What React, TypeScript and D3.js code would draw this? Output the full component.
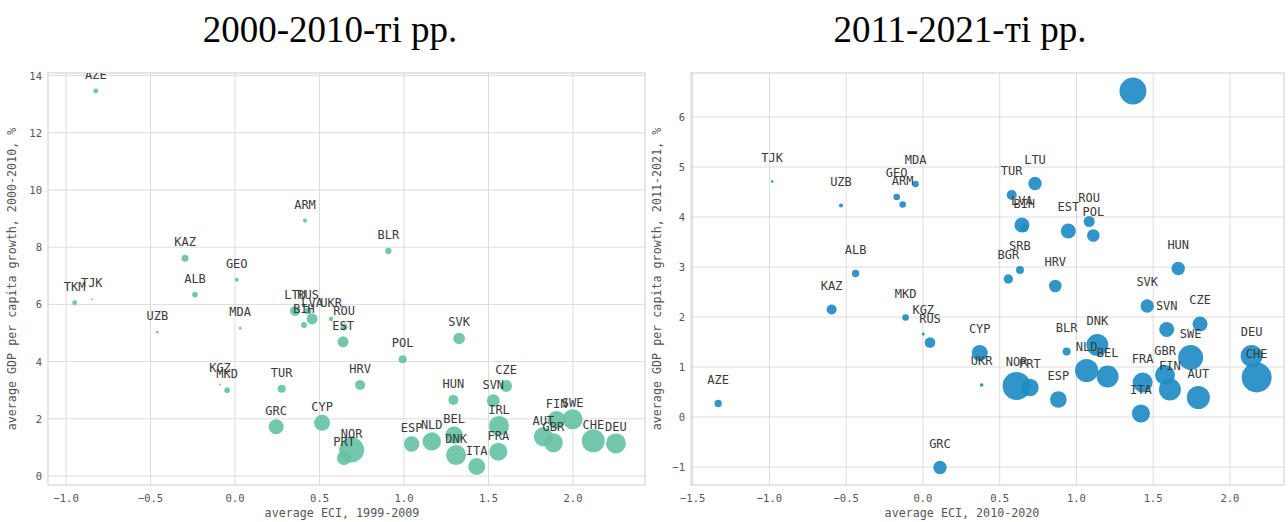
import React, { useRef, useEffect } from 'react';
import * as d3 from 'd3';

// 2000-2010 panel
const leftCodes = ['AZE', 'TJK', 'TKM', 'UZB', 'KAZ', 'ALB', 'GEO', 'MDA', 'ARM', 'BLR',
    'LTU', 'RUS', 'LVA', 'UKR', 'BIH', 'ROU', 'EST', 'POL', 'KGZ', 'MKD', 'TUR', 'HRV',
    'GRC', 'CYP', 'NOR', 'PRT', 'ESP', 'SVK', 'CZE', 'HUN', 'SVN', 'IRL', 'NLD', 'BEL',
    'DNK', 'ITA', 'FRA', 'AUT', 'GBR', 'FIN', 'SWE', 'CHE', 'DEU'];
const leftEci = [-0.824, -0.848, -0.949, -0.46, -0.296, -0.237, 0.01, 0.03, 0.414, 0.907,
    0.355, 0.432, 0.456, 0.568, 0.408, 0.645, 0.639, 0.992, -0.089, -0.047, 0.276, 0.74,
    0.243, 0.515, 0.69, 0.645, 1.045, 1.326, 1.604, 1.292, 1.528, 1.562, 1.164, 1.296,
    1.308, 1.43, 1.558, 1.824, 1.884, 1.903, 1.998, 2.12, 2.254];
const leftGrowth = [13.46, 6.18, 6.06, 5.03, 7.61, 6.34, 6.86, 5.17, 8.93, 7.87,
    5.77, 5.77, 5.49, 5.49, 5.28, 5.21, 4.69, 4.08, 3.2, 3.0, 3.05, 3.18,
    1.72, 1.86, 0.91, 0.63, 1.12, 4.81, 3.15, 2.66, 2.63, 1.75, 1.21, 1.43,
    0.73, 0.33, 0.85, 1.37, 1.16, 1.96, 1.98, 1.23, 1.14];
const leftGdp = [2.4, 0.4, 2.4, 0.7, 4.8, 3.1, 1.7, 0.9, 1.7, 3.8,
    9.8, 4.8, 11.8, 1.9, 3.5, 5.0, 11.8, 6.3, 0.4, 3.1, 6.3, 9.8,
    22, 25, 61, 20, 23, 13, 14, 9.8, 16.5, 39, 33, 30,
    39, 28, 32, 35, 35, 32, 39, 52, 39];

// 2011-2021 panel
const rightCodes = ['IRL', 'AZE', 'TJK', 'UZB', 'GEO', 'ARM', 'MDA', 'ALB', 'KAZ', 'MKD',
    'KGZ', 'RUS', 'GRC', 'CYP', 'UKR', 'NOR', 'PRT', 'ESP', 'BLR', 'DNK', 'NLD', 'BEL',
    'FRA', 'ITA', 'GBR', 'FIN', 'SWE', 'AUT', 'SVN', 'SVK', 'CZE', 'DEU', 'CHE', 'LTU',
    'TUR', 'LVA', 'BIH', 'EST', 'ROU', 'POL', 'SRB', 'BGR', 'HRV', 'HUN'];
const rightEci = [1.368, -1.334, -0.982, -0.534, -0.171, -0.132, -0.048, -0.439, -0.595, -0.113,
    0.002, 0.046, 0.111, 0.37, 0.382, 0.61, 0.697, 0.882, 0.936, 1.136, 1.066, 1.203,
    1.431, 1.42, 1.577, 1.609, 1.744, 1.794, 1.588, 1.461, 1.805, 2.141, 2.174, 0.73,
    0.578, 0.645, 0.66, 0.947, 1.083, 1.11, 0.632, 0.556, 0.862, 1.663];
const rightGrowth = [6.52, 0.27, 4.71, 4.23, 4.4, 4.25, 4.66, 2.87, 2.15, 1.99,
    1.66, 1.49, -1.01, 1.28, 0.64, 0.62, 0.59, 0.35, 1.31, 1.44, 0.93, 0.81,
    0.69, 0.07, 0.84, 0.55, 1.19, 0.39, 1.75, 2.22, 1.86, 1.22, 0.79, 4.67,
    4.44, 3.84, 3.78, 3.72, 3.91, 3.63, 2.94, 2.76, 2.62, 2.97];
const rightGdp = [71, 5.3, 0.7, 1.6, 4.3, 4.3, 4.3, 5.3, 9.8, 4.3,
    0.9, 11, 17.5, 25, 1.3, 76.6, 30, 27, 6.3, 47, 52, 47,
    39, 32, 39, 47, 61, 52, 22, 17.5, 22, 47, 88, 17.5,
    9.8, 22, 6.3, 22, 11.8, 15.5, 6.3, 8.6, 15.5, 17.5];

const leftXTicks = [-1.0, -0.5, 0.0, 0.5, 1.0, 1.5, 2.0];
const leftYTicks = [0, 2, 4, 6, 8, 10, 12, 14];
const rightXTicks = [-1.5, -1.0, -0.5, 0.0, 0.5, 1.0, 1.5, 2.0];
const rightYTicks = [-1, 0, 1, 2, 3, 4, 5, 6];

const mono = "'DejaVu Sans Mono', monospace";

function drawPanel(svg, p) {
    const x = d3.scaleLinear().domain(p.xDomain).range([p.left, p.right]);
    const y = d3.scaleLinear().domain(p.yDomain).range([p.bottom, p.top]);
    const r = d3.scaleSqrt().domain([0, 100]).range([0, 16]);

    const g = svg.append('g');

    // Grid lines
    g.selectAll('line.gx').data(p.xTicks).enter().append('line')
        .attr('x1', d => x(d)).attr('x2', d => x(d))
        .attr('y1', p.top).attr('y2', p.bottom)
        .attr('stroke', '#dcdcdc').attr('stroke-width', 1);
    g.selectAll('line.gy').data(p.yTicks).enter().append('line')
        .attr('y1', d => y(d)).attr('y2', d => y(d))
        .attr('x1', p.left).attr('x2', p.right)
        .attr('stroke', '#dcdcdc').attr('stroke-width', 1);

    g.append('rect')
        .attr('x', p.left).attr('y', p.top)
        .attr('width', p.right - p.left).attr('height', p.bottom - p.top)
        .attr('fill', 'none').attr('stroke', '#cccccc');

    // Tick labels
    g.selectAll('text.tx').data(p.xTicks).enter().append('text')
        .attr('x', d => x(d)).attr('y', p.bottom + 17)
        .attr('text-anchor', 'middle')
        .style('font-family', mono).style('font-size', '10.5px').attr('fill', '#555')
        .text(d => d3.format('.1f')(d));
    g.selectAll('text.ty').data(p.yTicks).enter().append('text')
        .attr('x', p.left - 6).attr('y', d => y(d) + 4)
        .attr('text-anchor', 'end')
        .style('font-family', mono).style('font-size', '10.5px').attr('fill', '#555')
        .text(d => d3.format('d')(d));

    // Axis labels
    g.append('text')
        .attr('x', p.xLabelX).attr('y', 517)
        .attr('text-anchor', 'middle')
        .style('font-family', mono).style('font-size', '11.7px').attr('fill', '#555')
        .text(p.xLabel);
    g.append('text')
        .attr('transform', `translate(${p.yLabelX},${(p.top + p.bottom) / 2}) rotate(-90)`)
        .attr('text-anchor', 'middle')
        .style('font-family', mono).style('font-size', '11.7px').attr('fill', '#555')
        .text(p.yLabel);

    // Title
    svg.append('text')
        .attr('x', p.titleX).attr('y', 42)
        .attr('text-anchor', 'middle')
        .style('font-family', "'Liberation Serif', 'Times New Roman', serif")
        .style('font-size', '37px').attr('fill', '#000')
        .text(p.title);

    const clipId = `clip-${p.id}`;
    svg.append('clipPath').attr('id', clipId).append('rect')
        .attr('x', p.left).attr('y', p.top)
        .attr('width', p.right - p.left).attr('height', p.bottom - p.top);

    const data = p.codes.map((c, i) => ({ code: c, eci: p.eci[i], growth: p.growth[i], gdp: p.gdp[i] }));
    const plot = svg.append('g').attr('clip-path', `url(#${clipId})`);

    plot.selectAll('circle').data(data).enter().append('circle')
        .attr('cx', d => x(d.eci)).attr('cy', d => y(d.growth))
        .attr('r', d => r(d.gdp))
        .attr('fill', p.color).attr('fill-opacity', 0.92);

    plot.selectAll('text').data(data).enter().append('text')
        .attr('x', d => x(d.eci)).attr('y', d => y(d.growth) - p.labelOffset + 4)
        .attr('text-anchor', 'middle')
        .style('font-family', mono).style('font-size', '12px').attr('fill', '#3a3a3a')
        .text(d => d.code);
}

const App = () => {
    const ref = useRef(null);

    useEffect(() => {
        d3.select(ref.current).selectAll('*').remove();
        const svg = d3.select(ref.current);

        drawPanel(svg, {
            id: 'l', codes: leftCodes, eci: leftEci, growth: leftGrowth, gdp: leftGdp,
            xDomain: [-1.107, 2.426], yDomain: [-0.315, 14.09],
            left: 48, right: 645, top: 73, bottom: 485,
            xTicks: leftXTicks, yTicks: leftYTicks, color: '#66c2a5', labelOffset: 16,
            xLabel: 'average ECI, 1999-2009', xLabelX: 342,
            yLabel: 'average GDP per capita growth, 2000-2010, %', yLabelX: 16,
            title: '2000-2010-ті рр.', titleX: 330,
        });
        drawPanel(svg, {
            id: 'r', codes: rightCodes, eci: rightEci, growth: rightGrowth, gdp: rightGdp,
            xDomain: [-1.511, 2.352], yDomain: [-1.36, 6.88],
            left: 691, right: 1284, top: 73, bottom: 485,
            xTicks: rightXTicks, yTicks: rightYTicks, color: '#1f8cc4', labelOffset: 24,
            xLabel: 'average ECI, 2010-2020', xLabelX: 962,
            yLabel: 'average GDP per capita growth, 2011-2021, %', yLabelX: 661,
            title: '2011-2021-ті рр.', titleX: 960,
        });
    }, []);

    return (
        <div style={{ position: 'absolute', left: 0, top: 0 }}>
            <svg ref={ref} width={1288} height={522} style={{ display: 'block', background: '#fff' }} />
        </div>
    );
};

export default App;
